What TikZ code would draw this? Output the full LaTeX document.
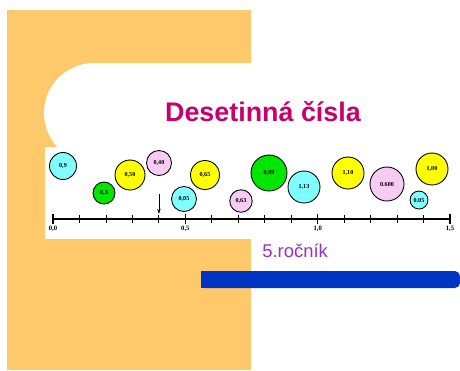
\documentclass[tikz,border=0pt]{standalone}
\usepackage{fontspec}
\setmainfont{Liberation Serif}
\setsansfont{Liberation Sans}
\usetikzlibrary{positioning, arrows.meta}
\definecolor{slideorange}{HTML}{FDC96A}
\definecolor{titlered}{HTML}{C8006E}
\definecolor{classviolet}{HTML}{9B30C8}
\definecolor{barblue}{HTML}{0034C4}
\definecolor{bubcyan}{HTML}{80FFFF}
\definecolor{bubgreen}{HTML}{00E600}
\definecolor{bubyellow}{HTML}{FFFF00}
\definecolor{bubpink}{HTML}{F8CBF4}

\begin{document}
\begin{tikzpicture}[
    x=0.02cm, y=-0.02cm,
    bubble/.style={circle, draw=black, line width=0.5pt, inner sep=0pt,
        font=\fontsize{3.5}{4}\selectfont\bfseries},
    ticklabel/.style={font=\fontsize{3.8}{4}\selectfont\bfseries, inner sep=0pt}
]
    \useasboundingbox (0,0) rectangle (460,370);
    % Slide background.
    \fill[white] (0,0) rectangle (460,370);
    \fill[slideorange] (7,10) rectangle (251,370);
    \fill[white] (94,113) circle[radius=1cm];
    \fill[white] (94,63) rectangle (460,147);
    \fill[white] (45,147) rectangle (460,239);

    % Title and subtitle.
    \node[font=\sffamily\bfseries\fontsize{15.3}{17}\selectfont, text=titlered] (title) at (263,112) {Desetinná čísla};
    \node[font=\sffamily\fontsize{10.5}{12}\selectfont, text=classviolet, anchor=west, inner sep=0pt] (grade) at (262,251) {5.ročník};
    \fill[barblue, rounded corners=3pt] (201,271) rectangle (460,288);
    \fill[barblue] (201,271) rectangle (230,288);

    % Number line.
    \draw[line width=0.6pt] (53,219) -- (450,219);
    \foreach \i in {0,...,15}
        \draw[line width=0.5pt] (53+\i*26.47,215) -- (53+\i*26.47,223);
    \foreach \i in {0,5,10,15}
        \draw[line width=0.9pt] (53+\i*26.47,214) -- (53+\i*26.47,224);
    \node[ticklabel] (l00) at (53,229) {0,0};
    \node[ticklabel] (l05) at (185.4,229) {0,5};
    \node[ticklabel] (l10) at (317.7,229) {1,0};
    \node[ticklabel] (l15) at (450,229) {1,5};

    % Pointer to 0.4.
    \coordinate (tip) at (158.9,214);
    \coordinate (tail) at (158.9,194);
    \draw[line width=0.4pt, -{Stealth[length=3pt, width=2pt]}] (tail) -- (tip);

    % Bubbles.
    \node[bubble, fill=bubcyan, minimum size=0.54cm] (b09) at (63,166) {0,9};
    \node[bubble, fill=bubgreen, minimum size=0.44cm] (b03) at (104,193) {0,3};
    \node[bubble, fill=bubyellow, minimum size=0.6cm] (b050) at (130,175) {0,50};
    \node[bubble, fill=bubpink, minimum size=0.5cm] (b040) at (159,163) {0,40};
    \node[bubble, fill=bubcyan, minimum size=0.5cm] (b005) at (184,199) {0,05};
    \node[bubble, fill=bubyellow, minimum size=0.58cm] (b065) at (205,175) {0,65};
    \node[bubble, fill=bubpink, minimum size=0.45cm] (b063) at (241,201) {0,63};
    \node[bubble, fill=bubgreen, minimum size=0.72cm] (b099) at (269,173) {0,99};
    \node[bubble, fill=bubcyan, minimum size=0.64cm] (b113) at (304,187) {1,13};
    \node[bubble, fill=bubyellow, minimum size=0.64cm] (b110) at (348,173) {1,10};
    \node[bubble, fill=bubpink, minimum size=0.68cm] (b0600) at (387,184) {0.600};
    \node[bubble, fill=bubcyan, minimum size=0.36cm] (b0050) at (419,200) {0.05};
    \node[bubble, fill=bubyellow, minimum size=0.64cm] (b100) at (432,169) {1,00};
\end{tikzpicture}
\end{document}
